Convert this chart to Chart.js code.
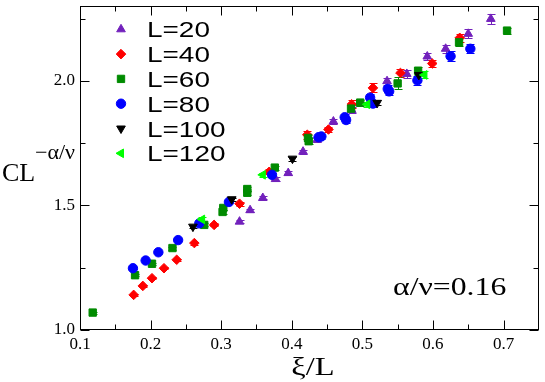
<!DOCTYPE html>
<html>
<head>
<meta charset="utf-8">
<script src="https://cdn.jsdelivr.net/npm/chart.js@4.4.0/dist/chart.umd.min.js"></script>
<style>
html, body { margin: 0; padding: 0; background: #fff; }
#wrap { width: 545px; height: 382px; }
</style>
</head>
<body>
<div id="wrap"><canvas id="canvasScaling" width="545" height="382"></canvas></div>
<script>
"use strict"

// series labels and tick values
const seriesLabels = ['L=20', 'L=40', 'L=60', 'L=80', 'L=100', 'L=120']
const xTicks = [0.1, 0.2, 0.3, 0.4, 0.5, 0.6, 0.7]
const xMinorTicks = [0.15, 0.25, 0.35, 0.45, 0.55, 0.65]
const yTicks = [1.0, 1.5, 2.0]
const yMinorTicks = [1.25, 1.75, 2.25]

// L=20
const l20X = [0.326, 0.341, 0.359, 0.377, 0.395, 0.416, 0.436, 0.459, 0.485, 0.535, 0.563, 0.592, 0.618, 0.650, 0.682]
const l20Y = [1.435, 1.481, 1.530, 1.606, 1.630, 1.716, 1.764, 1.837, 1.883, 1.999, 2.028, 2.098, 2.129, 2.189, 2.249]
const l20Err = [0.005, 0.006, 0.006, 0.008, 0.008, 0.008, 0.010, 0.010, 0.012, 0.014, 0.016, 0.016, 0.016, 0.018, 0.020]

// L=40
const l40X = [0.176, 0.189, 0.202, 0.219, 0.237, 0.262, 0.290, 0.326, 0.368, 0.422, 0.452, 0.485, 0.515, 0.554, 0.599, 0.638]
const l40Y = [1.141, 1.177, 1.208, 1.248, 1.282, 1.349, 1.422, 1.507, 1.635, 1.784, 1.805, 1.906, 1.972, 2.032, 2.070, 2.173]
const l40Err = [0.004, 0.004, 0.004, 0.005, 0.005, 0.006, 0.006, 0.008, 0.010, 0.016, 0.012, 0.016, 0.018, 0.016, 0.016, 0.016]

// L=60
const l60X = [0.118, 0.178, 0.202, 0.231, 0.276, 0.302, 0.303, 0.337, 0.337, 0.376, 0.423, 0.424, 0.484, 0.497, 0.550, 0.579, 0.637, 0.705]
const l60Y = [1.070, 1.220, 1.266, 1.329, 1.422, 1.474, 1.490, 1.551, 1.566, 1.652, 1.771, 1.758, 1.889, 1.913, 1.990, 2.041, 2.155, 2.202]
const l60Err = [0.004, 0.005, 0.005, 0.006, 0.006, 0.007, 0.007, 0.008, 0.008, 0.008, 0.012, 0.012, 0.014, 0.012, 0.024, 0.016, 0.016, 0.012]

// L=80
const l80X = [0.175, 0.193, 0.211, 0.239, 0.269, 0.311, 0.372, 0.438, 0.442, 0.475, 0.477, 0.511, 0.515, 0.536, 0.538, 0.578, 0.625, 0.653]
const l80Y = [1.248, 1.279, 1.312, 1.361, 1.428, 1.514, 1.623, 1.774, 1.777, 1.854, 1.843, 1.933, 1.909, 1.968, 1.958, 2.002, 2.099, 2.129]
const l80Err = [0.003, 0.003, 0.004, 0.004, 0.005, 0.006, 0.008, 0.010, 0.010, 0.012, 0.012, 0.014, 0.014, 0.014, 0.014, 0.018, 0.020, 0.018]

// L=100
const l100X = [0.260, 0.315, 0.401, 0.521, 0.580]
const l100Y = [1.415, 1.525, 1.688, 1.912, 2.024]
const l100Err = [0.005, 0.006, 0.008, 0.010, 0.012]

// L=120
const l120X = [0.273, 0.359, 0.507, 0.588]
const l120Y = [1.444, 1.623, 1.906, 2.024]
const l120Err = [0.008, 0.008, 0.010, 0.014]

const seriesX = [l20X, l40X, l60X, l80X, l100X, l120X]
const seriesY = [l20Y, l40Y, l60Y, l80Y, l100Y, l120Y]
const seriesErr = [l20Err, l40Err, l60Err, l80Err, l100Err, l120Err]

const colors = ['#7221bc', '#ff0000', '#008b00', '#0000ff', '#000000', '#00ff00']
const pointStyles = ['triangle', 'rectRot', 'rect', 'circle', 'triangle', 'triangle']
const rotations = [0, 0, 0, 0, 180, 270]
const radii = [5, 4.8, 5.2, 4.7, 5, 5]

const serif = "'Liberation Serif', 'Times New Roman', serif"
const sans = "'Liberation Sans', Arial, sans-serif"

function drawText(ctx, text, x, y, font, sx, align) {
	ctx.save()
	ctx.font = font
	ctx.fillStyle = '#000'
	ctx.textBaseline = 'alphabetic'
	ctx.textAlign = align || 'left'
	ctx.translate(x, y)
	ctx.scale(sx, 1)
	ctx.fillText(text, 0, 0)
	ctx.restore()
}

// error bars drawn under the markers
const errorBars = {
	id: 'errorBars',
	beforeDatasetsDraw(chart) {
		const ctx = chart.ctx
		const xs = chart.scales.x
		const ys = chart.scales.y
		ctx.save()
		ctx.lineWidth = 1
		seriesErr.forEach(function (errs, i) {
			ctx.strokeStyle = colors[i]
			errs.forEach(function (e, j) {
				const px = Math.round(xs.getPixelForValue(seriesX[i][j])) + 0.5
				const top = Math.round(ys.getPixelForValue(seriesY[i][j] + e)) + 0.5
				const bot = Math.round(ys.getPixelForValue(seriesY[i][j] - e)) + 0.5
				ctx.beginPath()
				ctx.moveTo(px, top); ctx.lineTo(px, bot)
				ctx.moveTo(px - 4, top); ctx.lineTo(px + 4, top)
				ctx.moveTo(px - 4, bot); ctx.lineTo(px + 4, bot)
				ctx.stroke()
			})
		})
		ctx.restore()
	}
}

// frame, inward ticks, legend and texts
const decorations = {
	id: 'decorations',
	afterDraw(chart) {
		const ctx = chart.ctx
		const a = chart.chartArea
		const xs = chart.scales.x
		const ys = chart.scales.y
		const l = Math.round(a.left) + 0.5, r = Math.round(a.right) - 0.5
		const t = Math.round(a.top) + 0.5, b = Math.round(a.bottom) - 0.5
		ctx.save()
		ctx.strokeStyle = '#000'
		ctx.lineWidth = 1
		ctx.strokeRect(l, t, r - l, b - t)
		ctx.beginPath()
		function xTick(v, len) {
			const px = Math.round(xs.getPixelForValue(v)) + 0.5
			ctx.moveTo(px, b); ctx.lineTo(px, b - len)
			ctx.moveTo(px, t); ctx.lineTo(px, t + len)
		}
		function yTick(v, len) {
			const py = Math.round(ys.getPixelForValue(v)) + 0.5
			ctx.moveTo(l, py); ctx.lineTo(l + len, py)
			ctx.moveTo(r, py); ctx.lineTo(r - len, py)
		}
		xTicks.forEach(function (v) { xTick(v, 9) })
		xMinorTicks.forEach(function (v) { xTick(v, 5) })
		yTicks.forEach(function (v) { yTick(v, 9) })
		yMinorTicks.forEach(function (v) { yTick(v, 5) })
		ctx.stroke()
		ctx.restore()

		// legend
		seriesLabels.forEach(function (label, i) {
			const y = 29.3 + i * 24.8
			ctx.save()
			ctx.fillStyle = colors[i]
			ctx.strokeStyle = colors[i]
			ctx.lineWidth = 1
			Chart.helpers.drawPoint(ctx, {
				pointStyle: pointStyles[i],
				radius: radii[i],
				rotation: rotations[i],
				borderWidth: 1
			}, 121, y)
			ctx.restore()
			drawText(ctx, label, 147, y + 8, '22px ' + sans, 1.27)
		})

		// axis titles and annotation
		drawText(ctx, 'CL', 2, 181, '26px ' + serif, 1)
		drawText(ctx, '\u2212\u03b1/\u03bd', 35, 159, '21px ' + serif, 1.05)
		drawText(ctx, '\u03be/L', 313, 375, '26px ' + serif, 1.25, 'center')
		drawText(ctx, '\u03b1/\u03bd=0.16', 393, 295, '25px ' + serif, 1.27)
	}
}

const datasets = seriesLabels.map(function (label, i) {
	return {
		label: label,
		data: seriesX[i].map(function (x, j) { return { x: x, y: seriesY[i][j] } }),
		backgroundColor: colors[i],
		borderColor: colors[i],
		borderWidth: 1,
		pointStyle: pointStyles[i],
		rotation: rotations[i],
		pointRadius: radii[i],
		order: seriesLabels.length - i
	}
})

const context = document.getElementById('canvasScaling').getContext('2d')
const myChart = new Chart(context, {
	type: 'scatter',
	data: { datasets: datasets },
	options: {
		responsive: false,
		animation: false,
		devicePixelRatio: 1,
		layout: { padding: { top: 2, right: 1, left: 0, bottom: 0 } },
		plugins: {
			legend: { display: false },
			tooltip: { enabled: false }
		},
		scales: {
			x: {
				type: 'linear',
				min: 0.1,
				max: 0.75,
				grid: { display: false, drawTicks: false },
				border: { display: false },
				afterBuildTicks: function (scale) {
					scale.ticks = xTicks.map(function (v) { return { value: v } })
				},
				afterFit: function (scale) {
					scale.height = 52
					scale.paddingLeft = 0
					scale.paddingRight = 0
				},
				ticks: {
					padding: 4,
					color: '#000',
					maxRotation: 0,
					autoSkip: false,
					font: { family: serif, size: 17 },
					callback: function (v) { return Number(v).toFixed(1) }
				}
			},
			y: {
				type: 'linear',
				min: 1.0,
				max: 2.3,
				grid: { display: false, drawTicks: false },
				border: { display: false },
				afterBuildTicks: function (scale) {
					scale.ticks = yTicks.map(function (v) { return { value: v } })
				},
				afterFit: function (scale) {
					scale.width = 80
					scale.paddingTop = 0
					scale.paddingBottom = 0
				},
				ticks: {
					padding: 5,
					color: '#000',
					autoSkip: false,
					font: { family: serif, size: 17 },
					callback: function (v) { return Number(v).toFixed(1) }
				}
			}
		}
	},
	plugins: [errorBars, decorations]
})
</script>
</body>
</html>
